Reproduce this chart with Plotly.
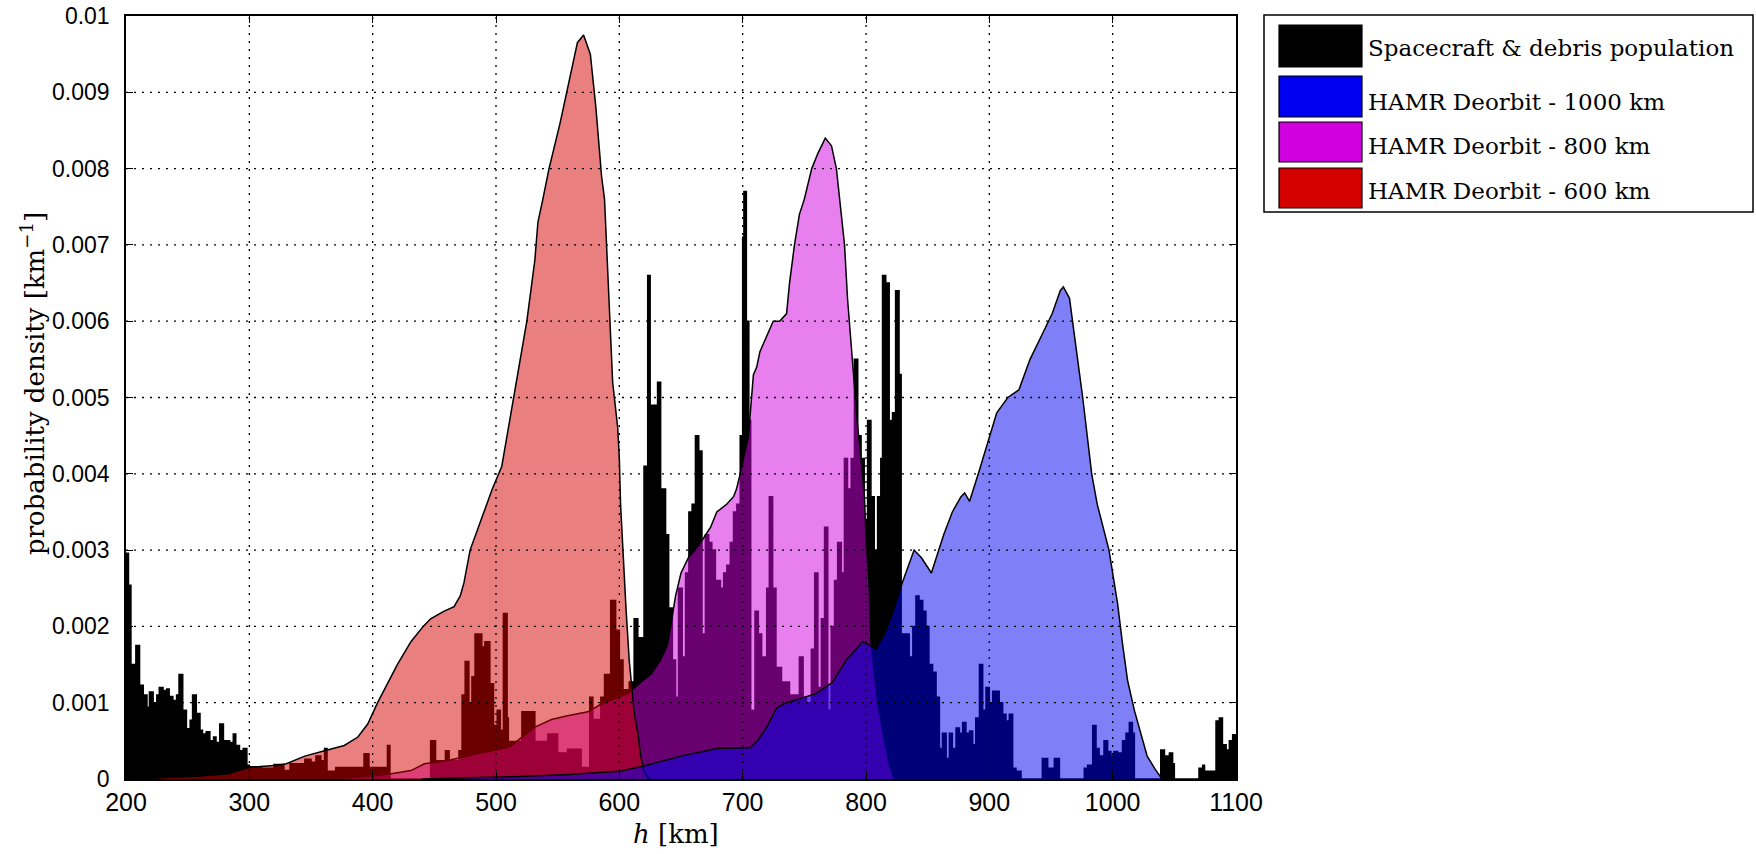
import plotly.graph_objects as go

# ---------------------------------------------------------------------------
# Catalogue population: histogram bins (left edge in km) and density (1/km)
# ---------------------------------------------------------------------------
debris_edges = [
    200, 202, 204, 208, 211, 214, 217, 219, 222, 225, 227, 230, 233, 235, 238,
    241, 243, 246, 249, 252, 254, 257, 260, 262, 265, 268, 271, 273, 276, 279,
    284, 287, 289, 292, 295, 298, 300, 310, 320, 328, 333, 345, 350, 354, 358,
    361, 363, 370, 393, 397, 412, 414, 447, 451, 459, 462, 470, 472.5, 475, 478,
    480.5, 483, 488.5, 491, 495, 498, 501, 503.5, 506, 509, 510, 521, 531.5, 542,
    550, 558, 569, 576, 578.5, 585, 588, 593, 597, 600, 603, 608, 612, 615, 620,
    623, 625, 628, 631, 633.5, 637.5, 640, 643, 645.6, 648, 651, 653.7, 656.4,
    659, 661.7, 664.4, 667, 669.8, 672.5, 675, 677.9, 682, 684.6, 687.2, 690,
    692.6, 695.3, 698, 700, 701, 703, 705, 706.5, 710, 712.7, 715.4, 719.5,
    721.6, 724.3, 727, 731.5, 738, 746, 749, 751.7, 755.7, 758.4, 761, 763.8,
    766.4, 769, 771.8, 774.5, 777, 780, 782.5, 785, 788, 790.6, 793.3, 796,
    798.6, 801.3, 804, 806.7, 809.4, 812, 813.4, 816, 818.8, 821.5, 824, 826.8,
    828.5, 831, 835, 838, 840.5, 843, 846, 848.6, 851, 854, 856.8, 859.5, 862,
    865, 867.6, 870, 873, 875.7, 878.4, 881, 884, 886.5, 889, 892, 894.6, 897.3,
    900, 902.7, 908, 910.8, 913.5, 916.2, 918.9, 921.6, 925.7, 943, 947.3,
    952.7, 956.8, 977, 979.7, 983.8, 986.5, 989, 993, 995.9, 998.6, 1001, 1004,
    1008, 1010.8, 1013.5, 1016, 1017.6, 1039, 1042, 1046, 1048.6, 1050, 1070,
    1073, 1074.5, 1083.8, 1086.5, 1089, 1092, 1094.6, 1097.3,
]
debris_density = [
    0.00296, 0.00254, 0.00150, 0.00175, 0.00123, 0.00110, 0.00094, 0.00114,
    0.00100, 0.00110, 0.00120, 0.00116, 0.00118, 0.00108, 0.00103, 0.00110,
    0.00137, 0.00090, 0.00066, 0.00077, 0.00110, 0.00086, 0.00064, 0.00059,
    0.00062, 0.00050, 0.00055, 0.00048, 0.00072, 0.00050, 0.00048, 0.00059,
    0.00044, 0.00037, 0.00040, 0.00018, 0.00016, 0.00014, 0.00019, 0.00011,
    0.00020, 0.00026, 0.00022, 0.00030, 0.00024, 0.00040, 0.00010, 0.00015,
    0.00033, 0.00015, 0.00044, 0.0, 0.00050, 0.00024, 0.00037, 0.00024,
    0.00037, 0.00110, 0.00154, 0.00100, 0.00134, 0.00190, 0.00173, 0.00180,
    0.00125, 0.00070, 0.00090, 0.00064, 0.00217, 0.00080, 0.00049, 0.00088,
    0.00049, 0.00059, 0.00034, 0.00039, 0.00015, 0.00107, 0.00078, 0.00107,
    0.00137, 0.00234, 0.00195, 0.00156, 0.00117, 0.00127, 0.00210, 0.00185,
    0.00410, 0.00660, 0.00490, 0.00490, 0.00520, 0.00380, 0.00320, 0.00224,
    0.00156, 0.00107, 0.00250, 0.00160, 0.00270, 0.00350, 0.00360, 0.00450,
    0.00430, 0.00190, 0.00320, 0.00310, 0.00300, 0.00260, 0.00250, 0.00270,
    0.00280, 0.00310, 0.00350, 0.00360, 0.00450, 0.00710, 0.00770, 0.00600,
    0.00470, 0.00090, 0.00220, 0.00190, 0.00160, 0.00250, 0.00370, 0.00250,
    0.00146, 0.00127, 0.00110, 0.00160, 0.00107, 0.00100, 0.00170, 0.00270,
    0.00120, 0.00210, 0.00330, 0.00090, 0.00200, 0.00260, 0.00310, 0.00270,
    0.00420, 0.00380, 0.00420, 0.00550, 0.00450, 0.00420, 0.00340, 0.00470,
    0.00370, 0.00300, 0.00370, 0.00420, 0.00660, 0.00650, 0.00470, 0.00480,
    0.00640, 0.00530, 0.00190, 0.00190, 0.00160, 0.00200, 0.00240, 0.00234,
    0.00220, 0.00200, 0.00150, 0.00140, 0.00107, 0.00040, 0.00060, 0.00027,
    0.00060, 0.00040, 0.00067, 0.00060, 0.00074, 0.00060, 0.00063, 0.00045,
    0.00080, 0.00150, 0.00090, 0.00120, 0.00100, 0.00115, 0.00100, 0.00085,
    0.00076, 0.00085, 0.00014, 0.00010, 0.0, 0.00027, 0.00014, 0.00027, 0.0,
    0.00014, 0.00018, 0.00070, 0.00040, 0.00030, 0.00050, 0.00036, 0.00030,
    0.00036, 0.00034, 0.00050, 0.00060, 0.00074, 0.00060, 0.0, 0.00038,
    0.00030, 0.00034, 0.00020, 0.0, 0.00014, 0.00018, 0.00010, 0.00076,
    0.00080, 0.00045, 0.00038, 0.00050, 0.00058,
]
h_max = 1100

# ---------------------------------------------------------------------------
# HAMR deorbit altitude densities (km, 1/km)
# ---------------------------------------------------------------------------
hamr600_h = [
    215, 230, 260, 283, 299, 310, 323, 330, 345, 361, 377, 388, 396, 404, 412,
    420, 431, 441, 447, 458, 466, 471, 474, 479, 488, 497, 504.7, 510, 518,
    525, 531.5, 534, 538, 543, 552, 561, 566, 571, 576.5, 581, 585.6, 588,
    590.6, 594.6, 598.7, 600, 601, 602.7, 605.4, 608, 610.7, 612, 615, 617.4,
    620, 623, 625,
]
hamr600_v = [
    0.0, 0.00002, 0.00004, 0.00007, 0.00015, 0.00016, 0.00018, 0.00020,
    0.00030, 0.00037, 0.00044, 0.00055, 0.00072, 0.00100, 0.00125, 0.00150,
    0.00180, 0.00200, 0.00210, 0.00220, 0.00226, 0.00240, 0.00257, 0.00300,
    0.00340, 0.00380, 0.00410, 0.00460, 0.00530, 0.00600, 0.00680, 0.00730,
    0.00760, 0.00800, 0.00860, 0.00930, 0.00965, 0.00975, 0.00950, 0.00880,
    0.00790, 0.00760, 0.00660, 0.00520, 0.00460, 0.00420, 0.00360, 0.00300,
    0.00224, 0.00156, 0.00110, 0.00088, 0.00060, 0.00030, 0.00010, 0.00002,
    0.0,
]

hamr800_h = [
    366, 400, 415, 431, 442, 460, 485, 511, 531.5, 545, 558, 574.5, 585,
    598.7, 606.7, 617.4, 625.5, 633.5, 639, 641.6, 645.6, 650, 656, 666, 674,
    679, 687, 692.6, 695, 698, 700.6, 704.7, 708.7, 711.4, 714, 719.5, 724.8,
    730, 735.6, 738, 742, 746, 750, 756, 761, 767, 772, 776, 778.5, 782.6,
    785, 788, 790.6, 793.3, 796, 798.7, 800, 801, 802.7, 804, 809.5, 815, 819,
    823,
]
hamr800_v = [
    0.0, 0.00004, 0.00007, 0.00011, 0.00020, 0.00024, 0.00033, 0.00042,
    0.00068, 0.00078, 0.00083, 0.00088, 0.00098, 0.00107, 0.00112, 0.00127,
    0.00137, 0.00156, 0.00176, 0.00200, 0.00240, 0.00270, 0.00290, 0.00310,
    0.00330, 0.00350, 0.00360, 0.00370, 0.00380, 0.00400, 0.00420, 0.00450,
    0.00530, 0.00540, 0.00560, 0.00580, 0.00600, 0.00600, 0.00610, 0.00650,
    0.00700, 0.00740, 0.00760, 0.00800, 0.00820, 0.00840, 0.00830, 0.00800,
    0.00760, 0.00700, 0.00630, 0.00570, 0.00520, 0.00460, 0.00420, 0.00370,
    0.00320, 0.00290, 0.00250, 0.00180, 0.00100, 0.00050, 0.00018, 0.0,
]

hamr1000_h = [
    440, 470, 515, 560, 600, 620, 650, 679, 706, 712, 719.5, 727.5, 735.6,
    746, 759.7, 773, 784, 792, 797, 802, 808, 815, 820, 830, 839, 845, 853,
    863, 870, 877, 880, 884, 892, 906, 915, 924, 933, 942, 951, 957.5, 960,
    965, 969, 975.7, 983, 987.5, 997, 1001, 1004, 1008, 1012, 1017.6, 1023,
    1028, 1034, 1040,
]
hamr1000_v = [
    0.0, 0.00001, 0.00003, 0.00006, 0.00010, 0.00017, 0.00030, 0.00040,
    0.00041, 0.00050, 0.00068, 0.00093, 0.00100, 0.00105, 0.00112, 0.00127,
    0.00156, 0.00170, 0.00180, 0.00176, 0.00170, 0.00190, 0.00210, 0.00260,
    0.00300, 0.00290, 0.00270, 0.00320, 0.00350, 0.00370, 0.00375, 0.00364,
    0.00405, 0.00480, 0.00500, 0.00510, 0.00550, 0.00580, 0.00610, 0.00640,
    0.00645, 0.00630, 0.00580, 0.00500, 0.00400, 0.00360, 0.00300, 0.00260,
    0.00230, 0.00177, 0.00130, 0.00090, 0.00058, 0.00030, 0.00014, 0.0,
]

# Axis ticks
x_ticks = [200, 300, 400, 500, 600, 700, 800, 900, 1000, 1100]
x_ticktext = ["200", "300", "400", "500", "600", "700", "800", "900", "1000", "1100"]
y_ticks = [0, 0.001, 0.002, 0.003, 0.004, 0.005, 0.006, 0.007, 0.008, 0.009, 0.01]
y_ticktext = ["0", "0.001", "0.002", "0.003", "0.004", "0.005", "0.006",
              "0.007", "0.008", "0.009", "0.01"]

# Legend entries (top to bottom)
legend_labels = ["Spacecraft & debris population", "HAMR Deorbit - 1000 km",
                 "HAMR Deorbit - 800 km", "HAMR Deorbit - 600 km"]

# Colours
COL_DEBRIS = (0, 0, 0)
COL_1000 = (0, 0, 240)
COL_800 = (208, 0, 224)
COL_600 = (212, 0, 0)
ALPHA = 0.5

SERIF = "DejaVu Serif, Liberation Serif, serif"
SANS = "Liberation Sans, Arial, sans-serif"

fig = go.Figure()


def area(x, y, rgb, alpha, shape="linear"):
    r, g, b = rgb
    fig.add_trace(go.Scatter(
        x=x, y=y, mode="lines", fill="tozeroy",
        fillcolor=f"rgba({r},{g},{b},{alpha})",
        line=dict(color="black", width=1.5, shape=shape),
        hoverinfo="skip", showlegend=False,
    ))


# histogram drawn as a staircase closed at the right-hand edge
area(debris_edges + [h_max], debris_density + [debris_density[-1]],
     COL_DEBRIS, 1.0, shape="hv")
area(hamr800_h, hamr800_v, COL_800, ALPHA)
area(hamr600_h, hamr600_v, COL_600, ALPHA)
area(hamr1000_h, hamr1000_v, COL_1000, ALPHA)

# Plot-area geometry in pixels (used for items placed outside the axes)
PL, PR, PT, PB = 126, 1236, 16, 779


def fx(px):
    return (px - PL) / (PR - PL)


def fy(py):
    return (PB - py) / (PB - PT)


shapes = []
# dotted grid on top of the filled areas
for xv in x_ticks[1:-1]:
    shapes.append(dict(type="line", xref="x", yref="y", x0=xv, x1=xv,
                       y0=0, y1=0.01, layer="above",
                       line=dict(color="black", width=1.3, dash="2px,6px")))
for yv in y_ticks[1:-1]:
    shapes.append(dict(type="line", xref="x", yref="y", x0=200, x1=1100,
                       y0=yv, y1=yv, layer="above",
                       line=dict(color="black", width=1.3, dash="2px,6px")))

# legend frame
shapes.append(dict(type="rect", xref="paper", yref="paper",
                   x0=fx(1264), x1=fx(1753), y0=fy(212), y1=fy(15),
                   line=dict(color="black", width=1.5), fillcolor="white"))
legend_rows = [(25, 67), (76, 117), (122, 162), (168, 208)]
legend_text_y = [48, 102, 146, 191]
legend_cols = [COL_DEBRIS, COL_1000, COL_800, COL_600]
annotations = []
for (top, bot), ty, col, lab in zip(legend_rows, legend_text_y, legend_cols, legend_labels):
    r, g, b = col
    shapes.append(dict(type="rect", xref="paper", yref="paper",
                       x0=fx(1279), x1=fx(1362), y0=fy(bot), y1=fy(top),
                       line=dict(color="black", width=1.2),
                       fillcolor=f"rgb({r},{g},{b})"))
    annotations.append(dict(xref="paper", yref="paper", x=fx(1366), y=fy(ty),
                            xanchor="left", yanchor="middle", showarrow=False,
                            text=lab, font=dict(family=SERIF, size=23, color="black")))

# axis titles
annotations.append(dict(xref="paper", yref="paper", x=fx(33), y=fy(384),
                        xanchor="center", yanchor="middle", showarrow=False,
                        textangle=-90,
                        text="probability density [km<sup>\u22121</sup>]",
                        font=dict(family=SERIF, size=26, color="black")))
annotations.append(dict(xref="paper", yref="paper", x=fx(676), y=fy(834),
                        xanchor="center", yanchor="middle", showarrow=False,
                        text="<i>h</i> [km]",
                        font=dict(family=SERIF, size=26, color="black")))

axis_common = dict(
    ticks="inside", ticklen=7, tickwidth=1, tickcolor="black",
    showline=True, linecolor="black", linewidth=1.5, mirror="ticks",
    showgrid=False, zeroline=False, layer="above traces", automargin=False,
)

fig.update_layout(
    width=1756, height=854,
    margin=dict(l=PL, r=1756 - PR, t=PT, b=854 - PB, autoexpand=False),
    paper_bgcolor="white", plot_bgcolor="white",
    showlegend=False,
    shapes=shapes, annotations=annotations,
    xaxis=dict(range=[200, 1100], tickmode="array", tickvals=x_ticks,
               ticktext=x_ticktext, ticklabelstandoff=0,
               tickfont=dict(family=SANS, size=25, color="black"),
               **axis_common),
    yaxis=dict(range=[0, 0.01], tickmode="array", tickvals=y_ticks,
               ticktext=y_ticktext, ticklabelstandoff=10,
               tickfont=dict(family=SANS, size=23, color="black"),
               **axis_common),
)

fig.write_html("out.html")
